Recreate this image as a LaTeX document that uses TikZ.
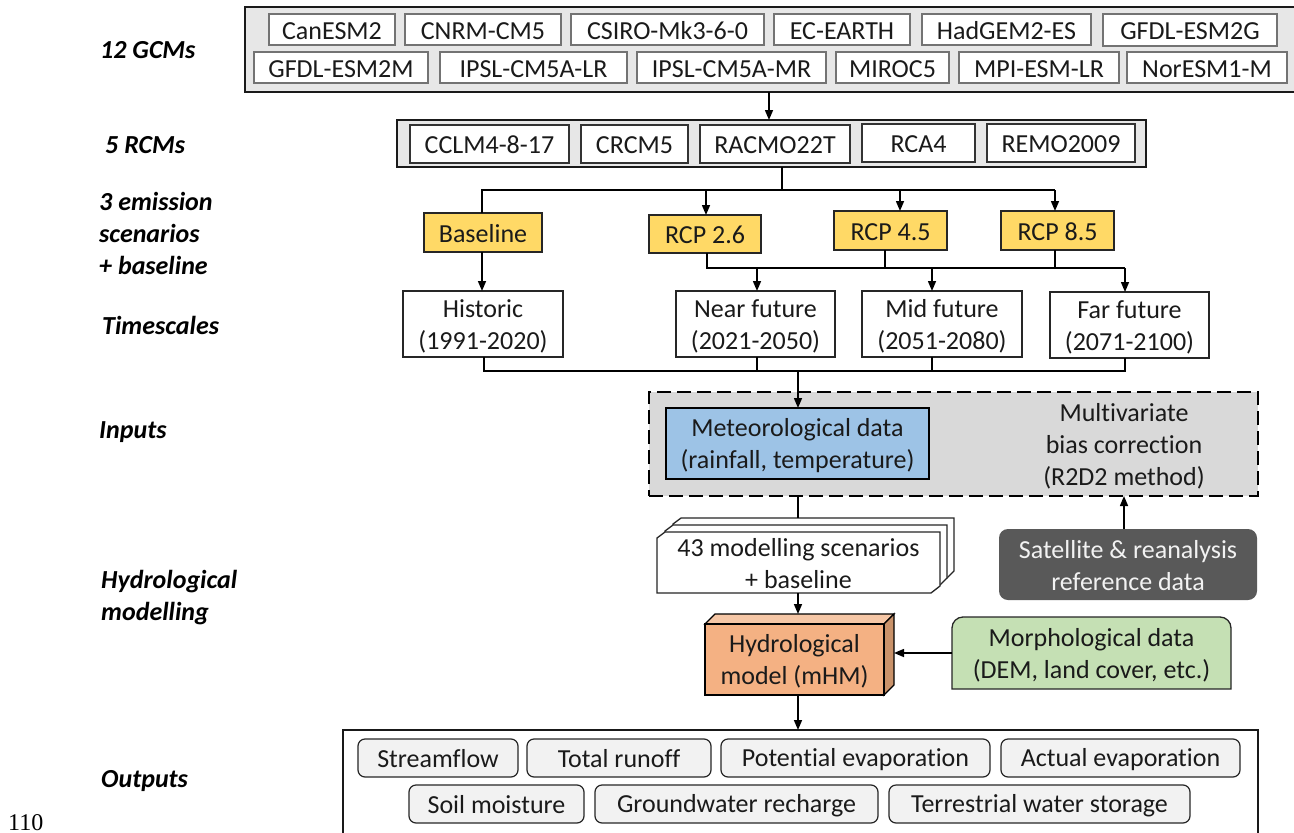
\documentclass[tikz,border=0pt]{standalone}
\usepackage{fontspec}
\setmainfont{Carlito}[Ligatures=NoCommon]
\newfontfamily\timesfont{Liberation Serif}
\usetikzlibrary{arrows.meta,calc}
\definecolor{gcmfill}{HTML}{E7E7E7}
\definecolor{yel}{HTML}{FFD966}
\definecolor{blu}{HTML}{9DC3E6}
\definecolor{ora}{HTML}{F4B183}
\definecolor{oratop}{HTML}{F6C7A6}
\definecolor{oraside}{HTML}{C9926A}
\definecolor{grn}{HTML}{C5E0B4}
\definecolor{dashgray}{HTML}{D9D9D9}
\definecolor{dark}{HTML}{595959}
\definecolor{ink}{HTML}{1A1A1A}
\definecolor{soft}{HTML}{F2F2F2}
\def\tstrut{\vrule height 22pt depth 3pt width 0pt}
\newcommand{\bx}[7][]{%
  \pgfmathsetmacro\cxx{(#3+#5)/2}\pgfmathsetmacro\cyy{(#4+#6)/2}%
  \pgfmathsetmacro\ww{#5-#3}\pgfmathsetmacro\hh{#6-#4}%
  \node[base,#1,minimum width=\ww pt,minimum height=\hh pt] (#2) at (\cxx,\cyy) {\tstrut #7\tstrut};}
\tikzset{
  x=1pt,y=-1pt,
  base/.style={inner sep=0pt,outer sep=0pt,align=center,font=\fontsize{26}{32}\selectfont,text=ink},
  panel/.style={draw=ink,line width=1.5pt,fill=gcmfill},
  gcm/.style={draw=black!55,line width=1.2pt,fill=white},
  rcm/.style={draw=black!80,line width=1.6pt,fill=white},
  scen/.style={draw=black!85,line width=1.5pt,fill=yel},
  period/.style={draw=black!85,line width=1.3pt,fill=white},
  outbox/.style={draw=black!85,line width=1.2pt,fill=soft,rounded corners=7pt},
  sidelabel/.style={inner sep=0pt,align=left,anchor=west,font=\fontsize{26}{32}\selectfont\bfseries\itshape,text=black},
  link/.style={draw=black,line width=1.5pt},
  arrow/.style={link,-{Triangle[length=10pt,width=8pt]}},
  layer/.style={draw=black!85,line width=1.3pt,fill=white},
}
\begin{document}
\begin{tikzpicture}
\clip (0,0) rectangle (1294,833);
\fill[white] (0,0) rectangle (1294,833);
% side labels
\node[sidelabel] (l1) at (100,49) {\tstrut 12 GCMs\tstrut};
\node[sidelabel] (l2) at (105,144) {\tstrut 5 RCMs\tstrut};
\node[sidelabel] (l3) at (99,233) {\tstrut 3 emission\\scenarios\\+ baseline\tstrut};
\node[sidelabel] (l4) at (102,325) {\tstrut Timescales\tstrut};
\node[sidelabel] (l5) at (99,430) {\tstrut Inputs\tstrut};
\node[sidelabel] (l6) at (101,596) {\tstrut Hydrological\\modelling\tstrut};
\node[sidelabel] (l7) at (101,779) {\tstrut Outputs\tstrut};
\node[inner sep=0pt,anchor=base west,font=\timesfont\fontsize{24}{28}\selectfont] (pg) at (8,830) {110};
% GCM panel
\bx[panel]{gcmpanel}{245}{7}{1300}{92}{}
\bx[gcm]{g1}{269}{14}{395}{45}{CanESM2}
\bx[gcm]{g2}{405}{14}{561}{45}{CNRM-CM5}
\bx[gcm]{g3}{571}{14}{764}{45}{CSIRO-Mk3-6-0}
\bx[gcm]{g4}{774}{14}{910}{45}{EC-EARTH}
\bx[gcm]{g5}{922}{14}{1091}{45}{HadGEM2-ES}
\bx[gcm]{g6}{1103}{14}{1277}{46}{GFDL-ESM2G}
\bx[gcm]{g7}{254}{52}{428}{83}{GFDL-ESM2M}
\bx[gcm]{g8}{440}{52}{627}{83}{IPSL-CM5A-LR}
\bx[gcm]{g9}{637}{52}{826}{83}{IPSL-CM5A-MR}
\bx[gcm]{g10}{836}{52}{949}{83}{MIROC5}
\bx[gcm]{g11}{959}{52}{1119}{83}{MPI-ESM-LR}
\bx[gcm]{g12}{1127}{52}{1287}{83}{NorESM1-M}
% RCM panel
\bx[panel]{rcmpanel}{397}{120}{1146}{167}{}
\bx[rcm]{r1}{410}{125}{569}{163}{CCLM4-8-17}
\bx[rcm]{r2}{581}{125}{688}{163}{CRCM5}
\bx[rcm]{r3}{700}{125}{850}{163}{RACMO22T}
\bx[rcm]{r4}{862}{124}{975}{162}{RCA4}
\bx[rcm]{r5}{987}{124}{1135}{162}{REMO2009}
% scenarios
\bx[scen]{base0}{424}{213}{542}{252}{Baseline}
\bx[scen]{rcp26}{649}{215}{761}{253}{RCP 2.6}
\bx[scen]{rcp45}{834}{211}{947}{250}{RCP 4.5}
\bx[scen]{rcp85}{1001}{211}{1114}{250}{RCP 8.5}
% periods
\bx[period]{hist}{403}{291}{563}{357}{Historic\\(1991-2020)}
\bx[period]{near}{676}{291}{835}{357}{Near future\\(2021-2050)}
\bx[period]{mid}{862}{291}{1022}{357}{Mid future\\(2051-2080)}
\bx[period]{far}{1050}{292}{1209}{358}{Far future\\(2071-2100)}
% inputs
\bx[draw=black,line width=2.8pt,fill=dashgray,dash pattern=on 14pt off 6pt]{inputs}{649}{392}{1258}{496}{}
\bx[draw=black,line width=1.5pt,fill=blu]{met}{666}{408}{929}{479}{Meteorological data\\(rainfall, temperature)}
\bx{bias}{1004}{400}{1244}{488}{Multivariate\\bias correction\\(R2D2 method)}
\bx[draw=none,fill=dark,rounded corners=9pt,text=soft]{sat}{999}{529}{1257}{600}{Satellite \& reanalysis\\reference data}
% scenario stack
\filldraw[layer] (681,518) -- (954,518) -- (954,571) -- (947,578) -- (673,578) -- (673,524) -- cycle;
\filldraw[layer] (673,525) -- (947,525) -- (947,578) -- (940,585) -- (665,585) -- (665,531) -- cycle;
\filldraw[layer] (665,532) -- (940,532) -- (940,586) -- (931,593) -- (657,593) -- (657,538) -- cycle;
\bx{stack}{657}{532}{940}{593}{43 modelling scenarios\\+ baseline}
% hydrological model
\filldraw[draw=black,line width=1.3pt,fill=oratop] (705,624) -- (715,614) -- (894,614) -- (884,624) -- cycle;
\filldraw[draw=black,line width=1.3pt,fill=oraside] (884,624) -- (894,614) -- (894,685) -- (884,695) -- cycle;
\bx[draw=black,line width=1.3pt,fill=ora]{hydro}{705}{624}{884}{695}{Hydrological\\model (mHM)}
\coordinate (hydroside) at (894,653);
% morphological data: rounded top corners only
\filldraw[draw=black!85,line width=1.3pt,fill=grn] (952,689) [rounded corners=11pt] -- (952,617) -- (1231,617) -- (1231,650) [sharp corners] -- (1231,689) -- cycle;
\bx{morph}{952}{617}{1231}{689}{Morphological data\\(DEM, land cover, etc.)}
% outputs
\bx[draw=black!90,line width=1.5pt,fill=white]{outputs}{343}{730}{1258}{840}{}
\bx[outbox]{o1}{358}{739}{518}{777}{Streamflow}
\bx[outbox]{o2}{527}{739}{711}{777}{Total runoff}
\bx[outbox]{o3}{721}{739}{990}{777}{Potential evaporation}
\bx[outbox]{o4}{1001}{739}{1240}{777}{Actual evaporation}
\bx[outbox]{o5}{409}{785}{584}{823}{Soil moisture}
\bx[outbox]{o6}{595}{785}{878}{823}{Groundwater recharge}
\bx[outbox]{o7}{889}{785}{1190}{823}{Terrestrial water storage}
% connector helpers
\coordinate (xgcm) at (769,0);
\coordinate (xrcm) at (782,0);
\coordinate (bus1) at (0,190);
\coordinate (bus2) at (0,268);
\coordinate (bus3) at (0,371);
\coordinate (xflow) at (798,0);
\coordinate (xbase) at (482,0);
\coordinate (xhist) at (484,0);
\coordinate (x26in) at (706,0);
\coordinate (x26out) at (707,0);
\coordinate (x45in) at (900,0);
\coordinate (x45out) at (885,0);
\coordinate (x85) at (1055,0);
\coordinate (xnear) at (757,0);
\coordinate (xmid) at (932,0);
\coordinate (xfar) at (1125,0);
\coordinate (xbias) at (1124,0);
% connectors
\draw[arrow] (gcmpanel.south -| xgcm) -- (rcmpanel.north -| xgcm);
\draw[link] (rcmpanel.south -| xrcm) -- (bus1 -| xrcm);
\draw[link] (base0.north -| xbase) -- (bus1 -| xbase) -- (bus1 -| x85);
\draw[arrow] (bus1 -| x26in) -- (rcp26.north -| x26in);
\draw[arrow] (bus1 -| x45in) -- (rcp45.north -| x45in);
\draw[arrow] (bus1 -| x85) -- (rcp85.north -| x85);
\draw[arrow] (base0.south -| xbase) -- (hist.north -| xbase);
\draw[link] (rcp26.south -| x26out) -- (bus2 -| x26out) -- (bus2 -| xfar);
\draw[link] (rcp45.south -| x45out) -- (bus2 -| x45out);
\draw[link] (rcp85.south -| x85) -- (bus2 -| x85);
\draw[arrow] (bus2 -| xnear) -- (near.north -| xnear);
\draw[arrow] (bus2 -| xmid) -- (mid.north -| xmid);
\draw[arrow] (bus2 -| xfar) -- (far.north -| xfar);
\draw[link] (hist.south -| xhist) -- (bus3 -| xhist) -- (bus3 -| xfar) -- (far.south -| xfar);
\draw[link] (near.south -| xnear) -- (bus3 -| xnear);
\draw[link] (mid.south -| xmid) -- (bus3 -| xmid);
\draw[arrow] (bus3 -| xflow) -- (met.north -| xflow);
\draw[link] (inputs.south -| xflow) -- ($(stack.north -| xflow)+(0,-14)$);
\draw[arrow] (sat.north -| xbias) -- (inputs.south -| xbias);
\draw[arrow] (stack.south -| xflow) -- ($(hydro.north -| xflow)+(0,-10)$);
\draw[arrow] (morph.west) -- (hydroside);
\draw[arrow] (hydro.south -| xflow) -- (outputs.north -| xflow);
\end{tikzpicture}
\end{document}
